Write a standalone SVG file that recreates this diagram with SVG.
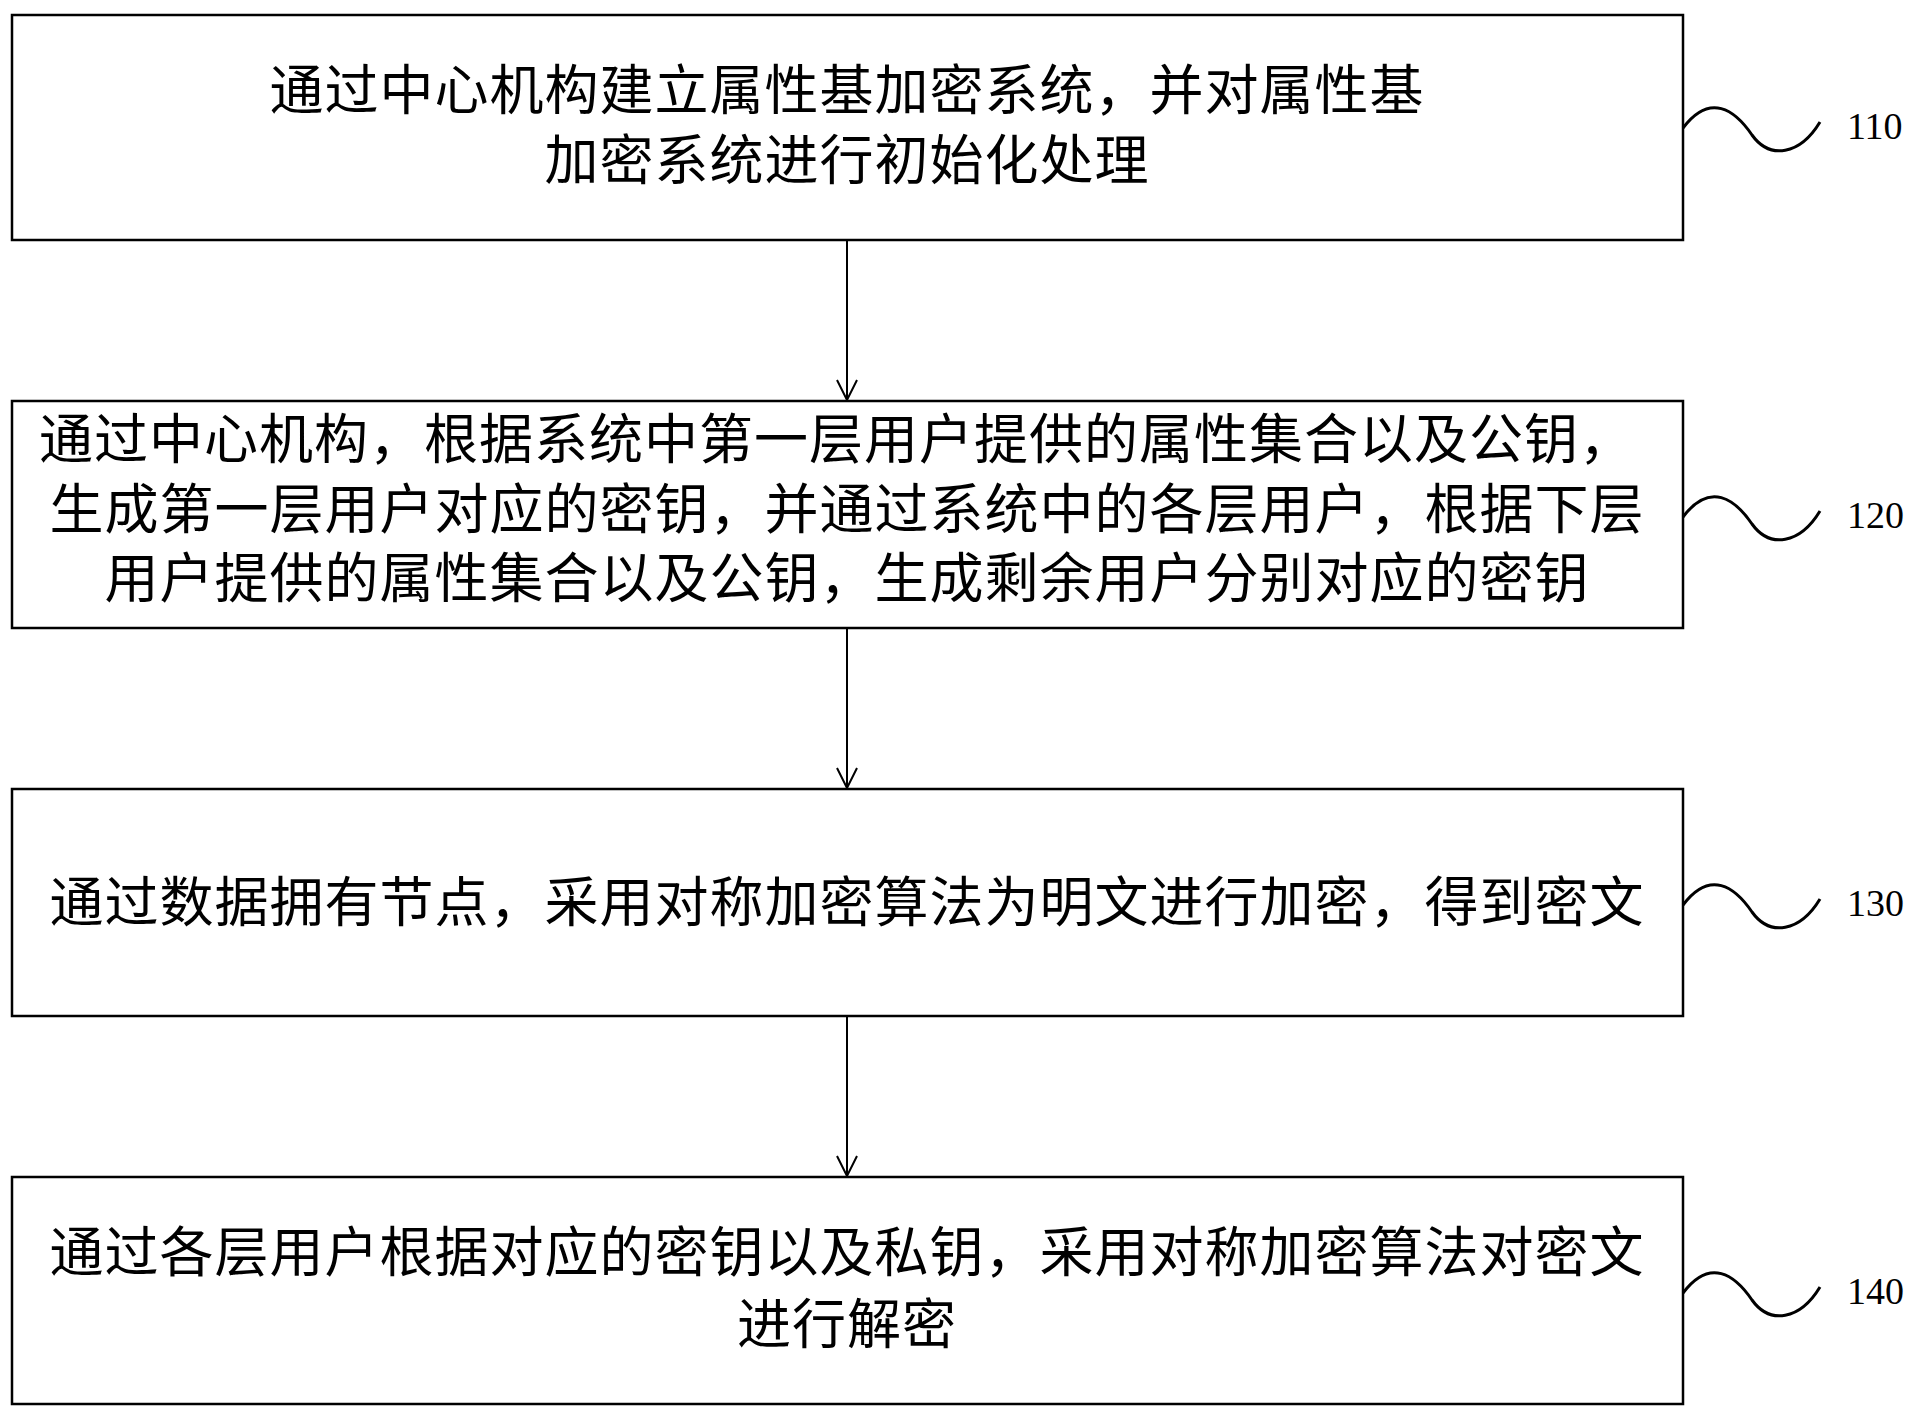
<svg xmlns="http://www.w3.org/2000/svg" width="1931" height="1417" viewBox="0 0 1931 1417">
<style>
.box{fill:#fff;stroke:#000;stroke-width:2.5}
.t{font-family:"Noto Sans CJK SC",sans-serif;font-size:54px;letter-spacing:1px;fill:#000;text-anchor:middle}
.n{font-family:"Liberation Serif",serif;font-size:38px;fill:#000}
.w{fill:none;stroke:#000;stroke-width:3}
.c{stroke:#000;stroke-width:2;fill:none}
</style>
<defs>
<marker id="a" markerWidth="26" markerHeight="24" refX="24" refY="12" orient="auto" markerUnits="userSpaceOnUse" viewBox="0 0 26 24">
<polyline points="4,2 24,12 4,22" fill="none" stroke="#000" stroke-width="2"/>
</marker>
</defs>
<rect width="1931" height="1417" fill="#fff"/>
<g id="n110">
<rect class="box" x="12" y="15" width="1671" height="225"/>
<text class="t" x="847" y="110">通过中心机构建立属性基加密系统，并对属性基</text>
<text class="t" x="847" y="180">加密系统进行初始化处理</text>
<path class="w" d="M1683,128 C1710,92 1735,110 1752,135 C1770,160 1800,155 1820,122"/>
<text class="n" x="1847" y="139">110</text>
</g>
<g id="n120">
<rect class="box" x="12" y="401" width="1671" height="227"/>
<text class="t" x="39" y="459" style="text-anchor:start">通过中心机构，根据系统中第一层用户提供的属性集合以及公钥，</text>
<text class="t" x="847" y="529">生成第一层用户对应的密钥，并通过系统中的各层用户，根据下层</text>
<text class="t" x="847" y="598">用户提供的属性集合以及公钥，生成剩余用户分别对应的密钥</text>
<path class="w" d="M1683,517 C1710,481 1735,499 1752,524 C1770,549 1800,544 1820,511"/>
<text class="n" x="1847" y="528">120</text>
</g>
<g id="n130">
<rect class="box" x="12" y="789" width="1671" height="227"/>
<text class="t" x="847" y="922">通过数据拥有节点，采用对称加密算法为明文进行加密，得到密文</text>
<path class="w" d="M1683,905 C1710,869 1735,887 1752,912 C1770,937 1800,932 1820,899"/>
<text class="n" x="1847" y="916">130</text>
</g>
<g id="n140">
<rect class="box" x="12" y="1177" width="1671" height="227"/>
<text class="t" x="847" y="1272">通过各层用户根据对应的密钥以及私钥，采用对称加密算法对密文</text>
<text class="t" x="847" y="1344">进行解密</text>
<path class="w" d="M1683,1293 C1710,1257 1735,1275 1752,1300 C1770,1325 1800,1320 1820,1287"/>
<text class="n" x="1847" y="1304">140</text>
</g>
<g id="connectors">
<line class="c" x1="847" y1="241" x2="847" y2="400" marker-end="url(#a)"/>
<line class="c" x1="847" y1="629" x2="847" y2="788" marker-end="url(#a)"/>
<line class="c" x1="847" y1="1017" x2="847" y2="1176" marker-end="url(#a)"/>
</g>
</svg>
